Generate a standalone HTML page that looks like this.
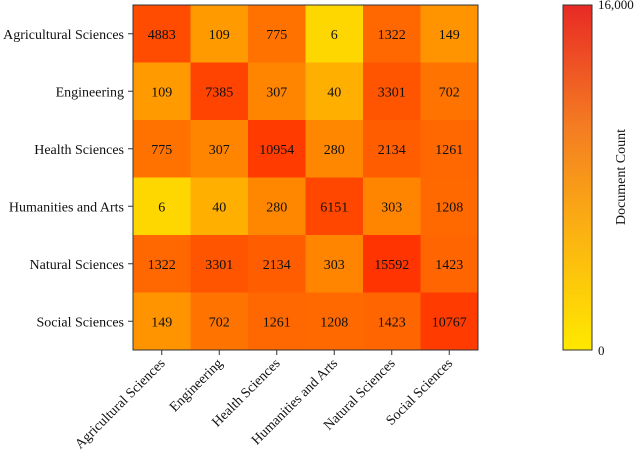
<!DOCTYPE html>
<html><head><meta charset="utf-8"><style>
body{margin:0;background:#fff;}
svg text{font-family:"Liberation Serif",serif;fill:#111;}
</style></head><body>
<svg id="c" width="640" height="451">
<defs><linearGradient id="cb" x1="0" y1="1" x2="0" y2="0">
<stop offset="0" stop-color="#ffe900"/><stop offset="0.35" stop-color="#fbb012"/><stop offset="0.65" stop-color="#f47c22"/><stop offset="1" stop-color="#e82a25"/></linearGradient></defs>
</svg>
<script>
const categories=["Agricultural Sciences","Engineering","Health Sciences","Humanities and Arts","Natural Sciences","Social Sciences"];
const values=[
[4883,109,775,6,1322,149],
[109,7385,307,40,3301,702],
[775,307,10954,280,2134,1261],
[6,40,280,6151,303,1208],
[1322,3301,2134,303,15592,1423],
[149,702,1261,1208,1423,10767]];
const cbTicks=["0","16,000"];
const vmax=16000;
const svg=document.getElementById('c');
const NS="http://www.w3.org/2000/svg";
const L=133,T=5,R=478,B=350;
const cw=(R-L)/categories.length,ch=(B-T)/categories.length;
function X(i){return L+i*cw;}
function Y(j){return T+j*ch;}
function color(v){let t=Math.log(Math.max(v,1))/Math.log(vmax);t=Math.min(1,Math.max(0,t));let g=Math.round(252-201*t);g=Math.min(225,g);return `rgb(255,${g},0)`;}
function mk(tag,a,p){const e=document.createElementNS(NS,tag);for(const k in a)e.setAttribute(k,a[k]);(p||svg).appendChild(e);return e;}
values.forEach((row,j)=>row.forEach((v,i)=>{
 const r=mk('rect',{x:X(i),y:Y(j),width:cw+0.5,height:ch+0.5,fill:color(v)});
 
 
 const t=mk('text',{x:X(i)+cw/2,y:Y(j)+ch/2+5,'text-anchor':'middle','font-size':14});
 t.textContent=v;
 
 
}));
const f=mk('rect',{x:L,y:T,width:R-L,height:B-T,fill:'none',stroke:'#333','stroke-width':1});


categories.forEach((c,j)=>{
 const cy=Y(j)+ch/2;
 mk('line',{x1:L-5,x2:L,y1:cy,y2:cy,stroke:'#333'});
 const t=mk('text',{x:L-9,y:cy+5,'text-anchor':'end','font-size':14});
 t.textContent=c;
 
 
});
categories.forEach((c,i)=>{
 const cx=X(i)+cw/2;
 mk('line',{x1:cx,x2:cx,y1:B,y2:B+5,stroke:'#333'});
 const t=mk('text',{x:cx+4,y:B+14,'text-anchor':'end','font-size':14,transform:`rotate(-45 ${cx+4} ${B+14})`});
 t.textContent=c;
 
 
});
const cb=mk('rect',{x:563,y:5,width:29,height:345,fill:'url(#cb)',stroke:'#333'});


cbTicks.forEach((s,k)=>{
 const t=mk('text',{x:598,y:k===0?355:9,'font-size':13});
 t.textContent=s;
 
 
});
const ct=mk('text',{x:625,y:177,'text-anchor':'middle','font-size':14,transform:'rotate(-90 625 177)'});
ct.textContent="Document Count";


</script>
</body></html>
